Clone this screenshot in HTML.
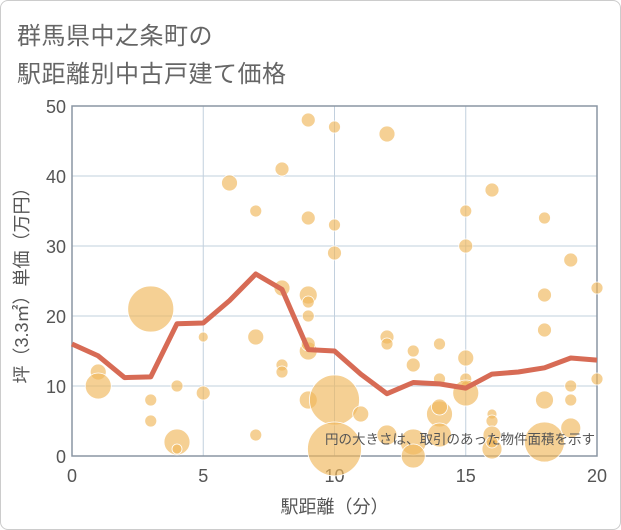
<!DOCTYPE html>
<html><head><meta charset="utf-8"><style>
body{margin:0;background:#fff;}
#card{position:absolute;left:0;top:0;width:619px;height:528px;border:1px solid #ccc;border-radius:8px;background:#fff;}
.title{position:absolute;left:17px;font-family:"Liberation Sans","Noto Sans CJK JP",sans-serif;font-size:24px;color:#666;letter-spacing:0.5px;}
</style></head><body>
<div id="card"></div>
<div class="title" style="top:16px">群馬県中之条町の</div>
<div class="title" style="top:54px">駅距離別中古戸建て価格</div>
<svg id="chart" width="621" height="530" style="position:absolute;left:0;top:0"></svg>
<script>
const xTicks=[0,5,10,15,20];
const yTicks=[0,10,20,30,40,50];
const lineX=[0,1,2,3,4,5,6,7,8,9,10,11,12,13,14,15,16,17,18,19,20];
const lineY=[16,14.3,11.2,11.3,18.9,19,22.2,26,23.8,15.2,15,11.7,8.9,10.5,10.3,9.7,11.7,12,12.6,14,13.7];
const bubX=[1,1,3,3,3,4,4,4,5,5,6,7,7,7,8,8,8,8,9,9,9,9,9,9,9,9,10,10,10,10,10,11,12,12,12,12,13,13,13,13,14,14,14,14,14,15,15,15,15,15,15,16,16,16,16,16,16,18,18,18,18,18,19,19,19,19,20,20];
const bubY=[12,10,21,8,5,10,2,1,17,9,39,35,17,3,41,24,13,12,48,34,23,22,20,15,16,8,47,33,29,8,1,6,46,17,16,3,15,13,2,0,16,11,6,7,3,35,30,14,11,10,9,38,6,5,3,1,2,34,23,18,8,2,28,10,8,4,24,11];
const bubR=[8,13,23,6,6,6,13,5,5,7,8,6,8,6,7,8,6,6,7,7,9,6,6,9,7,9,6,6,7,25,27,8,8,7,6,10,6,7,13,12,6,6,13,8,12,6,7,8,6,5,13,7,5,6,9,10,6,6,7,7,9,20,7,6,6,10,6,6];
const X0=72,X1=597,Y0=456,Y1=106;
const sx=v=>X0+(X1-X0)*v/20, sy=v=>Y0-(Y0-Y1)*v/50;
const svg=document.getElementById('chart');const NS='http://www.w3.org/2000/svg';
function mk(t,a){const e=document.createElementNS(NS,t);for(const k in a)e.setAttribute(k,a[k]);svg.appendChild(e);return e;}
const F='"Liberation Sans","Noto Sans CJK JP",sans-serif';
for(const t of xTicks){const g=mk('line',{x1:sx(t),x2:sx(t),y1:Y1,y2:Y0,stroke:'#c2d0de','stroke-width':1});


const l=mk('text',{x:sx(t),y:Y0+26,'text-anchor':'middle','font-size':18,'font-family':F,fill:'#555'});l.textContent=t;

}
for(const t of yTicks){const g=mk('line',{x1:X0,x2:X1,y1:sy(t),y2:sy(t),stroke:'#c2d0de','stroke-width':1});


const l=mk('text',{x:X0-6,y:sy(t)+7,'text-anchor':'end','font-size':18,'font-family':F,fill:'#555'});l.textContent=t;

}
const fr=mk('rect',{x:X0,y:Y1,width:X1-X0,height:Y0-Y1,fill:'none',stroke:'#8a96a3','stroke-width':1.5});


for(let i=0;i<bubX.length;i++){const c=mk('circle',{cx:sx(bubX[i]),cy:sy(bubY[i]),r:bubR[i],fill:'#f0b75a','fill-opacity':0.65,stroke:'#fff','stroke-width':0.8});

}
const p=mk('polyline',{points:lineX.map((x,i)=>sx(x)+','+sy(lineY[i])).join(' '),fill:'none',stroke:'#d76b55','stroke-width':5,'stroke-linejoin':'round'});


const n=mk('text',{x:595,y:444,'text-anchor':'end','font-size':13.5,'font-family':F,fill:'#555'});n.textContent='円の大きさは、取引のあった物件面積を示す';


const xt=mk('text',{x:(X0+X1)/2,y:513,'text-anchor':'middle','font-size':18,'font-family':F,fill:'#555'});xt.textContent='駅距離（分）';


const yt=mk('text',{x:0,y:0,'text-anchor':'middle','font-size':18,'font-family':F,fill:'#555',transform:`translate(28,${(Y0+Y1)/2}) rotate(-90)`});yt.textContent='坪（3.3㎡）単価（万円）';


</script>
</body></html>
